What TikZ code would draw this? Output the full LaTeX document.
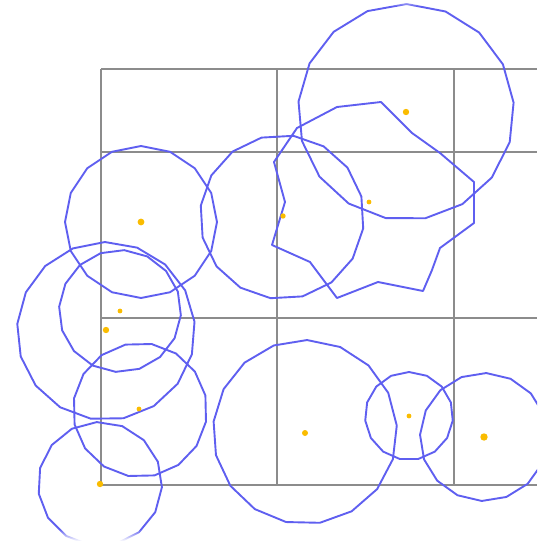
\documentclass[tikz,border=0pt]{standalone}
\usepackage{xcolor}
\usepackage{tikz}
\usetikzlibrary{calc}
\definecolor{gridgray}{RGB}{140,140,140}
\definecolor{ringblue}{RGB}{95,95,240}
\definecolor{seedamber}{RGB}{250,188,0}
\tikzset{
  gridline/.style={draw=gridgray, line width=0.9pt},
  ring/.style={draw=ringblue, line width=0.95pt, line join=round},
  seed/.style={fill=seedamber},
}
\begin{document}
\begin{tikzpicture}[x=0.5pt, y=-0.5pt]
  \useasboundingbox (0,0) rectangle (537,541);
  \clip (0,0) rectangle (537,541);
  \foreach \gy in {69,152,318,485}
    \draw[gridline] (101,\gy) -- (537,\gy);
  \foreach \gx in {101,277,454}
    \draw[gridline] (\gx,69) -- (\gx,485);
  \foreach \cx/\cy/\r/\n/\a in {406/112/108/18/-5, 282/217/82/17/8, 141/222/76/17/0,
      120/311/61/17/4, 106/331/89/18/-6, 140/410/67/17/10, 100/484/62/16/3,
      305/432/92/18/-4, 409/416/44/16/6, 484/437/64/17/2}
    \draw[ring] plot[domain=0:360, samples=\n] ({\cx+\r*cos(\x+\a)}, {\cy+\r*sin(\x+\a)}) -- cycle;
  \draw[ring] (381,102) -- (412,133) -- (440,153) -- (474,182) -- (474,223) -- (440,248)
    -- (432,270) -- (423,291) -- (378,282) -- (337,298) -- (310,262) -- (272,245)
    -- (285,202) -- (274,162) -- (297,128) -- (337,107) -- cycle;
  \foreach \dx/\dy/\dr in {406/112/3.2, 369/202/2.4, 283/216/2.7, 141/222/3.4, 120/311/2.4,
      106/330/3.2, 139/409/2.4, 100/484/3.2, 305/433/3, 409/416/2.4, 484/437/3.7}
    \fill[seed] (\dx,\dy) circle[radius=\dr];
  \foreach \i in {0,...,11}
    \fill[white, opacity=\i/12] (0,529+\i) rectangle (537,530+\i);
  \foreach \i in {0,...,5}
    \fill[white, opacity=\i/8] (0,6-\i) rectangle (537,7-\i);
\end{tikzpicture}
\end{document}
